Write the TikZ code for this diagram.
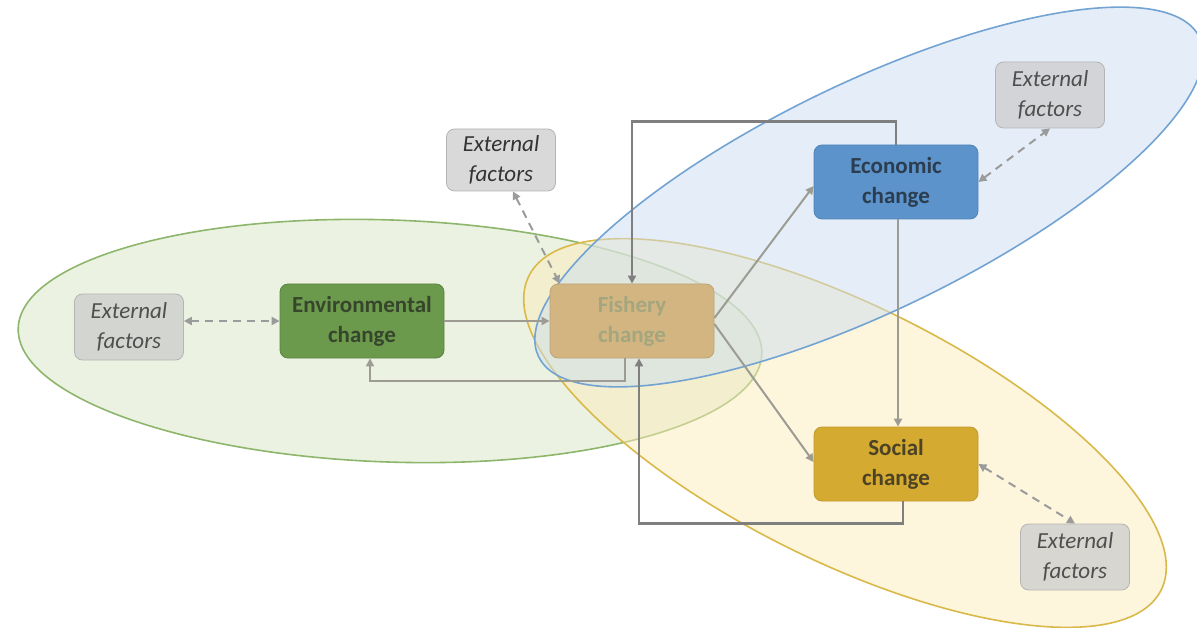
\documentclass[tikz,border=0pt]{standalone}
\usepackage{fontspec}
\setmainfont{Carlito}
\usetikzlibrary{arrows.meta}

\definecolor{envfill}{HTML}{6C9A4C}
\definecolor{envtext}{HTML}{36452C}
\definecolor{fishfill}{HTML}{D3B582}
\definecolor{fishtext}{HTML}{A3A67E}
\definecolor{econfill}{HTML}{5B93CA}
\definecolor{econtext}{HTML}{2C3D50}
\definecolor{socfill}{HTML}{D4AA30}
\definecolor{soctext}{HTML}{4C4226}
\definecolor{extgray}{HTML}{CCCCCC}
\definecolor{extborder}{HTML}{B4B4B4}
\definecolor{exttext}{HTML}{4F4F4F}
\definecolor{greenring}{HTML}{8DB66C}
\definecolor{greenarea}{HTML}{D7E6C3}
\definecolor{bluering}{HTML}{72A3D3}
\definecolor{bluearea}{HTML}{CCDEF1}
\definecolor{yellowring}{HTML}{D9B94A}
\definecolor{yellowarea}{HTML}{FBEBB9}
\definecolor{linkgray}{HTML}{9C9C92}
\definecolor{loopgray}{HTML}{7F7F7F}
\definecolor{dashgray}{HTML}{9B9B9B}

\begin{document}
\begin{tikzpicture}[x=0.5pt,y=0.5pt,
    changebox/.style={rounded corners=4pt, minimum width=82pt, minimum height=37pt,
      align=center, font=\bfseries\fontsize{11.5}{15}\selectfont},
    extbox/.style={draw=extborder, fill=extgray, fill opacity=0.75, text opacity=1,
      rounded corners=4pt, minimum width=54.5pt, minimum height=33pt,
      align=center, text=exttext, font=\itshape\fontsize{11.5}{15}\selectfont},
    link/.style={-{Triangle[length=4pt,width=4pt]}, line width=1pt, draw=linkgray},
    backlink/.style={-{Triangle[length=4pt,width=4pt]}, line width=1.1pt, draw=loopgray},
    extlink/.style={{Triangle[length=4pt,width=4pt]}-{Triangle[length=4pt,width=4pt]},
      line width=1pt, draw=dashgray, dash pattern=on 4pt off 3pt}]
    \useasboundingbox (0,0) rectangle (1197,627);

    % the three areas
    \filldraw[draw=greenring, fill=greenarea, fill opacity=0.5, line width=0.8pt,
      rotate around={-2:(390,286)}] (390,286) ellipse [x radius=186pt, y radius=60.5pt];
    \filldraw[draw=yellowring, fill=yellowarea, fill opacity=0.5, line width=0.8pt,
      rotate around={-26.4:(845,194)}] (845,194) ellipse [x radius=176.5pt, y radius=64pt];
    \filldraw[draw=bluering, fill=bluearea, fill opacity=0.5, line width=0.8pt,
      rotate around={25.8:(869,430)}] (869,430) ellipse [x radius=183.5pt, y radius=57pt];

    % change boxes
    \node[changebox, fill=envfill, draw=envfill!85!black, text=envtext] (env) at (362,306) {Environmental\\change};
    \node[changebox, fill=fishfill, draw=fishfill!90!black, text=fishtext] (fish) at (632,306) {Fishery\\change};
    \node[changebox, fill=econfill, draw=econfill!90!black, text=econtext] (econ) at (896,445) {Economic\\change};
    \node[changebox, fill=socfill, draw=socfill!90!black, text=soctext] (social) at (896,163) {Social\\change};

    % external factors
    \node[extbox] (extL) at (129,300) {External\\factors};
    \node[extbox, minimum height=30pt, text=black!80] (extT) at (501,467) {External\\factors};
    \node[extbox] (extTR) at (1050,532) {External\\factors};
    \node[extbox] (extBR) at (1075,70) {External\\factors};

    % links
    \draw[link] (env.east) -- (fish.west);
    \draw[link] ([yshift=1.5pt]fish.east) -- ([yshift=-2pt]econ.west);
    \draw[link] ([yshift=-1.5pt]fish.east) -- ([yshift=1pt]social.west);
    \draw[link] ([xshift=1pt]econ.south) -- ([xshift=1pt]social.north);
    \draw[backlink] (econ.north) -- ++(0,11.5pt) -| (fish.north);
    \draw[backlink] ([xshift=3.5pt]social.south) -- ++(0,-11pt) -| ([xshift=3.5pt]fish.south);
    \draw[link] ([xshift=-3.5pt]fish.south) -- ++(0,-11.5pt) -| ([xshift=4pt]env.south);

    % external links
    \draw[extlink] (extL.east |- env.west) -- (env.west);
    \draw[extlink] ([xshift=6pt]extT.south) -- ([xshift=5pt]fish.north west);
    \draw[extlink] (econ.east) -- (extTR.south);
    \draw[extlink] (social.east) -- (extBR.north);
\end{tikzpicture}
\end{document}
